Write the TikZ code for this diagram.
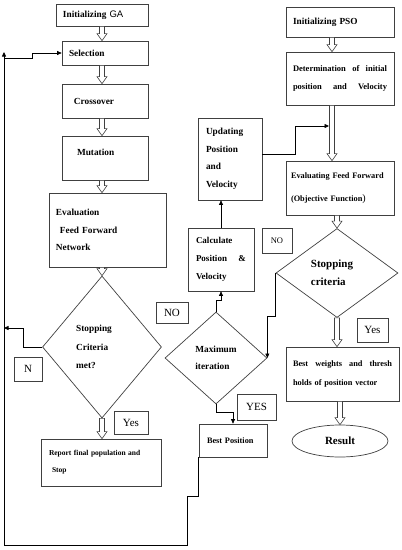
\documentclass[tikz,border=0pt]{standalone}
\usepackage{fontspec}
\setmainfont{Liberation Serif}
\newfontfamily\gafont{Liberation Sans}
\usetikzlibrary{shapes.geometric,arrows.meta,calc}
\begin{document}
\begin{tikzpicture}[x=1pt,y=-1pt,
  box/.style={draw=black!75, line width=0.7pt, rectangle, align=left, inner xsep=7pt, inner ysep=0pt, font=\fontsize{9.3}{17.5}\selectfont\bfseries},
  dec/.style={draw=black!75, line width=0.7pt, diamond, inner sep=0pt, align=left, font=\fontsize{9.3}{18.5}\selectfont\bfseries},
  term/.style={draw=black!75, line width=0.7pt, ellipse, inner sep=0pt, font=\fontsize{11}{12}\selectfont\bfseries},
  tag/.style={draw=black!75, line width=0.6pt, rectangle, inner sep=0pt, font=\fontsize{11}{12}\selectfont},
  flow/.style={draw=black, line width=0.7pt, -{Triangle[length=4.5pt,width=4pt]}},
  hollow/.style={draw=black!75, fill=white, line width=0.6pt, to path={let \p1=(\tikztostart), \p2=(\tikztotarget) in
    (\x1-2.5pt,\y1) -- (\x1-2.5pt,\y2+7pt) -- (\x1-5pt,\y2+7pt) -- (\x1,\y2) -- (\x1+5pt,\y2+7pt) -- (\x1+2.5pt,\y2+7pt) -- (\x1+2.5pt,\y1) -- cycle}}]
\useasboundingbox (0,0) rectangle (402,550);

% GA column
\node[box, text width=78pt, minimum height=22pt] (iga) at (102,15) {Initializing {\gafont\mdseries\fontsize{9.5}{12}\selectfont GA}};
\node[box, text width=72pt, minimum height=24pt] (sel) at (105,53) {Selection};
\node[box, inner xsep=12pt, text width=62pt, minimum height=34pt] (cro) at (105,101) {Crossover};
\node[box, inner xsep=15pt, inner ysep=3pt, text width=56pt, text height=16pt, text depth=22pt] (mut) at (105,158) {Mutation};
\node[box, text width=103pt, minimum height=74pt] (eva) at (107.5,230) {Evaluation\\\hspace*{4pt}Feed Forward\\Network};
\node[dec, minimum width=119pt, minimum height=142pt] (gad) at (102,347) {Stopping\hspace*{16pt}\\Criteria\\met?};
\node[box, inner xsep=8pt, text width=104pt, minimum height=47pt, font=\fontsize{7.5}{17}\selectfont\bfseries] (rep) at (101,462.5) {Report final population and\\\hspace*{3pt}Stop};

% PSO column
\node[box, text width=94pt, minimum height=30pt] (ipso) at (340,22) {Initializing PSO};
\node[box, text width=94pt, minimum height=53pt, font=\fontsize{8.5}{18}\selectfont\bfseries] (det) at (340,78.5) {Determination\hfill of\hfill initial\\position\hfill and\hfill Velocity};
\node[box, inner xsep=5pt, text width=98pt, minimum height=54pt, font=\fontsize{8.3}{23}\selectfont\bfseries] (evl) at (340,188) {\mbox{Evaluating Feed Forward}\\(Objective Function{\fontsize{10}{12}\selectfont\mdseries)}};
\node[dec, minimum width=122pt, minimum height=89pt, font=\fontsize{11}{18}\selectfont\bfseries] (stop) at (337,273) {Stopping\hspace*{10pt}\\criteria};
\node[box, text width=99pt, minimum height=54pt, font=\fontsize{8.3}{19}\selectfont\bfseries] (bw) at (342.5,374) {Best\hfill weights\hfill and\hfill thresh\\holds of position vector};
\node[term, minimum width=96pt, minimum height=32pt] (res) at (340,441) {Result};

% middle
\node[box, inner xsep=8pt, text width=48pt, minimum height=82pt] (upd) at (230,159) {Updating\\Position\\and\\Velocity};
\node[box, inner xsep=8pt, text width=50pt, minimum height=63pt, font=\fontsize{9}{18}\selectfont\bfseries] (calc) at (221,259.5) {Calculate\\Position\hfill\&\\Velocity};
\node[dec, minimum width=102pt, minimum height=92pt, font=\fontsize{9.3}{17}\selectfont\bfseries] (mit) at (216,358) {Maximum\\iteration};
\node[box, inner xsep=8pt, text width=52pt, minimum height=33pt, font=\fontsize{8.3}{12}\selectfont\bfseries] (bpos) at (233,440.5) {Best Position};

% answer tags
\node[tag, minimum width=28pt, minimum height=24pt] (tn) at (28,369) {N};
\node[tag, minimum width=34pt, minimum height=23pt] (tyga) at (131,422.5) {Yes};
\node[tag, minimum width=32pt, minimum height=21pt] (tno) at (172,312.5) {NO};
\node[tag, minimum width=30pt, minimum height=25pt, font=\fontsize{8.5}{10}\selectfont] (tnop) at (277,240.5) {NO};
\node[tag, minimum width=39pt, minimum height=26pt] (tyes) at (256.5,407) {YES};
\node[tag, minimum width=31pt, minimum height=24pt] (typ) at (372.5,330) {\raisebox{-4pt}{Yes}};

% rail on the left
\coordinate (railtop) at (4,52);
\coordinate (railsel) at (4,58);
\coordinate (railn) at (4,328);
\coordinate (railbot) at (4,545);
\coordinate (j1) at (329,126);

\draw[flow] (bpos.south west) -- ++(0,39) -- ++(-11,0) |- (railbot) -- (railtop);
\draw[flow] (railsel) -- ++(28,0) |- (sel.west);
\draw[flow] (gad.west) -- ++(-19,0) |- (railn);
\draw[flow] ([yshift=5pt]upd.east) -- ++(33,0) |- (j1);
\draw[flow] (calc.north) -- (calc.north |- upd.south);
\draw[flow] (mit.north) -- ++(0,-11) -| (calc.south);
\draw[flow] (stop.west) -- ++(0,43) -| (mit.east);
\draw[flow] (mit.south) -- ++(0,8) -| (bpos.north);

\draw[hollow] (iga.south -| gad.north) to (sel.north -| gad.north);
\draw[hollow] (sel.south -| gad.north) to (cro.north -| gad.north);
\draw[hollow] (cro.south -| gad.north) to (mut.north -| gad.north);
\draw[hollow] (mut.south -| gad.north) to (eva.north -| gad.north);
\draw[hollow] (eva.south -| gad.north) to (gad.north);
\draw[hollow] (gad.south) to (rep.north -| gad.south);
\draw[hollow] ([xshift=-8pt]ipso.south) to ([xshift=-8pt]det.north);
\draw[hollow] ([xshift=-8pt]det.south) to ([xshift=-8pt]evl.north);
\draw[hollow] (evl.south -| stop.north) to (stop.north);
\draw[hollow] (stop.south) to (stop.south |- bw.north);
\draw[hollow] (bw.south -| res.north) to (res.north);

\end{tikzpicture}
\end{document}
